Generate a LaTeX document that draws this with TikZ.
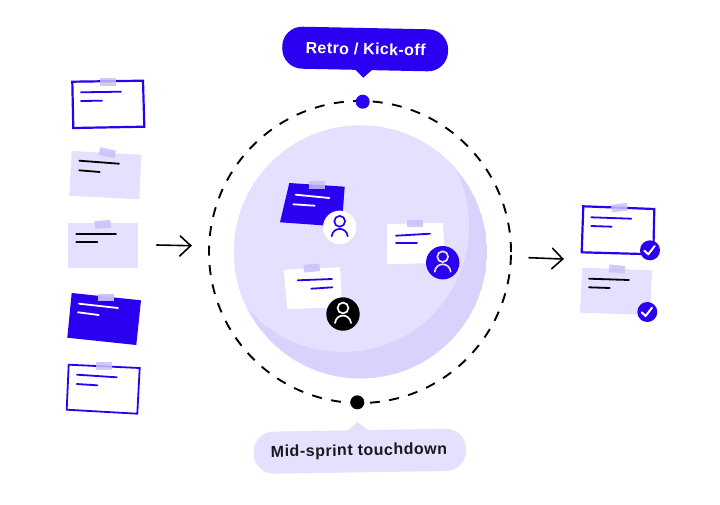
\documentclass[tikz,border=0pt]{standalone}
\usepackage{fontspec}
\setmainfont{Liberation Sans}
\definecolor{brand}{HTML}{2B00F0}
\definecolor{lav}{HTML}{E4E0FF}
\definecolor{lavdark}{HTML}{D8D3FC}
\definecolor{tapecol}{HTML}{C8C1FA}
\definecolor{ink}{HTML}{000000}
\tikzset{
  notelav/.style={fill=lav,draw=none},
  noteblue/.style={fill=brand,draw=none},
  notewhite/.style={fill=white,draw=none},
  noteline/.style={fill=white,draw=brand,line width=2.2pt,line join=miter},
  tape/.style={fill=tapecol,fill opacity=.85,draw=none,inner sep=0pt,minimum width=16pt,minimum height=7.6pt},
  txtblue/.style={draw=brand,line width=1.8pt,line cap=round},
  txtink/.style={draw=black,line width=1.8pt,line cap=round},
  txtwhite/.style={draw=white,line width=1.8pt,line cap=round},
  avatar/.style={circle,inner sep=0pt,minimum size=33.4pt,draw=none},
  checkdot/.style={circle,inner sep=0pt,minimum size=20pt,fill=brand,draw=none},
  dotmark/.style={circle,inner sep=0pt,minimum size=14pt,draw=none},
  flow/.style={draw=black,line width=1.6pt,line cap=round,line join=miter},
  bubbletext/.style={font=\fontsize{16}{18}\selectfont\bfseries,inner sep=0pt},
}
\newfontfamily\lblfontA[LetterSpace=2.5]{Liberation Sans}
\newfontfamily\lblfontB[LetterSpace=3.2]{Liberation Sans}
\newcommand{\personicon}[2]{%
  \draw[draw=#2,line width=1.7pt] ($(#1)+(0,-6)$) circle (5.4pt);
  \draw[draw=#2,line width=1.7pt,line cap=round] ($(#1)+(-8,9)$) .. controls ($(#1)+(-7.4,4)$) and ($(#1)+(-3.6,1.6)$) .. ($(#1)+(0,1.6)$) .. controls ($(#1)+(3.6,1.6)$) and ($(#1)+(7.4,4)$) .. ($(#1)+(8,9)$);
}
\newcommand{\tickmark}[1]{%
  \draw[draw=white,line width=2pt,line cap=round,line join=round] ($(#1)+(-5.6,0.4)$) -- ($(#1)+(-1.7,4)$) -- ($(#1)+(4.7,-4.3)$);
}
\usetikzlibrary{calc}
\begin{document}
\begin{tikzpicture}[x=1pt,y=-1pt]
\useasboundingbox (0,0) rectangle (720,504);
\fill[white] (0,0) rectangle (720,504);

% central disc
\begin{scope}
\clip (360.5,252) circle (126.5pt);
\fill[lavdark] (360.5,252) circle (126.5pt);
\fill[lav] (343,226) circle (126pt);
\end{scope}
\draw[black,line width=1.9pt,dash pattern=on 10pt off 9.5pt,line cap=butt] (360,252) circle (151pt);

% dots
\node[dotmark,fill=brand] (dotTop) at (362.7,101.7) {};
\node[dotmark,fill=black] (dotBottom) at (357.3,402.3) {};

% bubbles
\fill[brand,rounded corners=20pt] (282.5,26.3) -- (448.5,29.7) -- (447.6,71.7) -- (282,68.3) -- cycle;
\fill[brand,line join=round] (354.5,69) -- (363.3,77.7) -- (372,70) -- cycle;
\node[bubbletext,text=white,rotate=-1.2] (lblTop) at (365.6,49) {\lblfontA\bfseries Retro / Kick-off};

\fill[lav,rounded corners=20pt] (253.3,431.9) -- (465.8,428.5) -- (466.2,470.7) -- (254,473.9) -- cycle;
\fill[lav,line join=round] (347.5,431) -- (357.3,422) -- (368,430) -- cycle;
\node[bubbletext,text=ink!90!white,rotate=1.0] (lblBottom) at (359,451.4) {\lblfontB\bfseries Mid-sprint touchdown};

% left column
\draw[noteline] (72.3,81.7) -- (143,80.7) -- (144.3,126.7) -- (73.3,128) -- cycle;
\node[tape] (t1) at (108.3,81.7) {};
\draw[txtblue] (81,92.3) -- (121,91.7);
\draw[txtblue] (81,101) -- (102,100.7);

\fill[notelav] (71.7,151) -- (141.3,154.7) -- (139.3,199.3) -- (69.3,195.7) -- cycle;
\node[tape,rotate=-12] (t2) at (107.3,152.7) {};
\draw[txtink] (79.3,160.7) -- (119,163.7);
\draw[txtink] (79.3,170.3) -- (99.7,172);

\fill[notelav] (68,223.3) rectangle (138,268.3);
\node[tape,rotate=5] (t3) at (102.7,224.3) {};
\draw[txtink] (76.3,233.7) -- (116,233.7);
\draw[txtink] (76.3,242.3) -- (97.3,242.3);

\fill[noteblue] (71.7,293) -- (141,300.3) -- (136.3,345) -- (67.3,337.7) -- cycle;
\node[tape,opacity=.95] (t4) at (106,297.3) {};
\draw[txtwhite] (79,303.7) -- (118,308);
\draw[txtwhite] (78,312.3) -- (98.7,315);

\draw[noteline,line width=1.8pt] (68.7,364.7) -- (139.7,368) -- (137.3,413.7) -- (66.7,409.7) -- cycle;
\node[tape] (t5) at (104,366.2) {};
\draw[txtblue] (77,374.7) -- (116.7,377.3);
\draw[txtblue] (76.7,384) -- (97.3,385.3);

% arrows
\coordinate (a1s) at (156.7,245); \coordinate (a1e) at (190.7,245.7);
\draw[flow] (a1s) -- (a1e);
\draw[flow] (180.3,236) -- (a1e) -- (179.7,256);
\coordinate (a2s) at (529,257.7); \coordinate (a2e) at (562.7,259);
\draw[flow] (a2s) -- (a2e);
\draw[flow] (552.7,248.3) -- (a2e) -- (551.7,268.7);

% notes in the disc
\fill[noteblue] (289.3,183) -- (344.7,186.7) -- (341.7,226.7) -- (280,222.3) -- cycle;
\node[tape] (tA) at (316.5,185) {};
\draw[txtwhite] (295.7,194.7) -- (329.3,198);
\draw[txtwhite] (293.3,204.3) -- (314.7,205.7);
\node[avatar,fill=white] (avA) at (339.7,227.3) {};
\personicon{avA}{brand}

\fill[notewhite] (387,224.3) -- (443,222.7) -- (445,262.7) -- (387,264.3) -- cycle;
\node[tape] (tB) at (415.3,223.3) {};
\draw[txtblue] (396,235.7) -- (430,233.7);
\draw[txtblue] (396,243.3) -- (417,243.3);
\node[avatar,fill=brand] (avB) at (442.7,262.7) {};
\personicon{avB}{white!88!brand}

\fill[notewhite] (283.7,269.7) -- (340,267.3) -- (342.3,307.3) -- (287.3,309) -- cycle;
\node[tape,rotate=5] (tC) at (311.7,268) {};
\draw[txtblue] (297.7,280.3) -- (332,279);
\draw[txtblue] (311.3,288.7) -- (332.3,287.3);
\node[avatar,fill=black] (avC) at (343,314) {};
\personicon{avC}{white}

% right column
\draw[noteline] (583.3,206.3) -- (654.3,209) -- (653.3,254.3) -- (581.7,252.3) -- cycle;
\node[tape,rotate=7] (tR1) at (619.3,207.7) {};
\draw[txtblue] (591.3,217.3) -- (631.3,218.7);
\draw[txtblue] (591.3,226) -- (611.7,226.7);
\node[checkdot] (chk1) at (650,250.3) {};
\tickmark{chk1}

\fill[notelav] (582.3,267.7) -- (652,270.3) -- (650,315) -- (580,312.7) -- cycle;
\node[tape,rotate=-6] (tR2) at (617,269) {};
\draw[txtink] (589,278.7) -- (629,280);
\draw[txtink] (589,287.3) -- (609.7,288);
\node[checkdot] (chk2) at (647.3,312) {};
\tickmark{chk2}
\end{tikzpicture}
\end{document}
